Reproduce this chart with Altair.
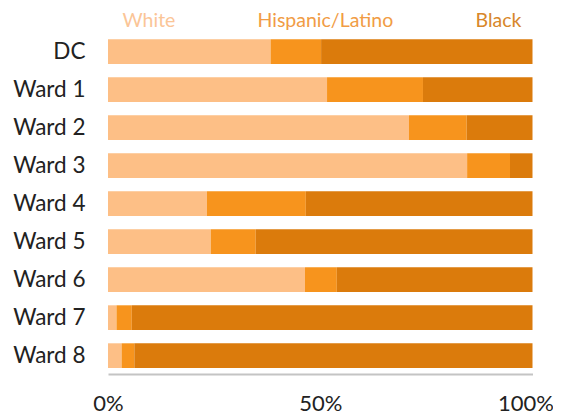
import altair as alt
import pandas as pd

areas = ["DC", "Ward 1", "Ward 2", "Ward 3", "Ward 4", "Ward 5", "Ward 6", "Ward 7", "Ward 8"]
white = [38.3, 51.6, 70.9, 84.6, 23.3, 24.2, 46.4, 2.0, 3.2]
hispanic = [11.9, 22.6, 13.6, 10.1, 23.3, 10.6, 7.5, 3.6, 3.0]
black = [49.8, 25.8, 15.5, 5.3, 53.4, 65.2, 46.1, 94.4, 93.8]
groups = ["White", "Hispanic/Latino", "Black"]
bar_colors = ["#fdbf86", "#f7941d", "#db7b0c"]
tick_values = [0, 0.5, 1]

rows = []
for i, a in enumerate(areas):
    for j, (g, vals) in enumerate(zip(groups, [white, hispanic, black])):
        rows.append({"area": a, "group": g, "share": vals[i], "idx": j})
df = pd.DataFrame(rows)

FONT = "Lato"
label_expr = ("datum.label == 'White' ? '#fbc597' : "
              "datum.label == 'Black' ? '#d8872a' : '#f19c45'")

chart = alt.Chart(df).mark_bar().encode(
    x=alt.X("share:Q", stack="normalize",
            scale=alt.Scale(domain=[0, 1], nice=False),
            axis=alt.Axis(values=tick_values, format=".0%", title=None, ticks=False,
                          grid=False, domainColor="#c4c4c4", domainWidth=2,
                          labelFont=FONT, labelFontSize=22, labelColor="#222222",
                          labelPadding=19, labelFlush=False,
                          labelOffset={"condition": {"test": "datum.value == 1", "value": -7},
                                       "value": 0})),
    y=alt.Y("area:N", sort=areas, title=None,
            scale=alt.Scale(paddingInner=0.35, paddingOuter=0.158),
            axis=alt.Axis(ticks=False, domain=False, labelFont=FONT, labelFontSize=22.5,
                          labelColor="#222222", labelPadding=23)),
    color=alt.Color("group:N", scale=alt.Scale(domain=groups, range=bar_colors),
                    legend=alt.Legend(orient="none", legendX=-5, legendY=-22,
                                      direction="horizontal", title=None,
                                      symbolOpacity=0, symbolSize=0, symbolStrokeWidth=0,
                                      labelOffset=0, padding=0, columnPadding=62,
                                      labelFont=FONT, labelFontSize=19.5,
                                      labelColor=alt.ExprRef(expr=label_expr))),
    order=alt.Order("idx:Q"),
).properties(
    width=424.5, height=340.7,
    autosize=alt.AutoSizeParams(type="none"),
    padding={"left": 100, "top": 25.3, "right": 20.5, "bottom": 40},
    background="white",
).configure_view(stroke=None)

chart.save("out.html", embed_options={"renderer": "svg", "actions": False})
